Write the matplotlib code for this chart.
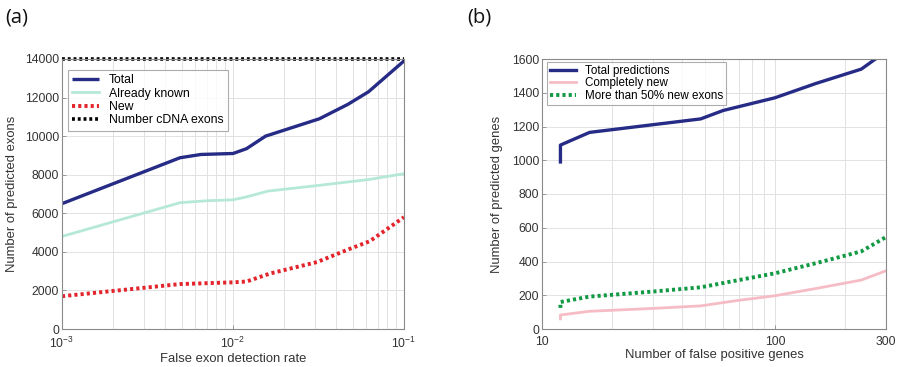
import matplotlib
matplotlib.use("Agg")
import matplotlib.pyplot as plt
from matplotlib.ticker import LogLocator, FixedLocator, FixedFormatter, NullFormatter, LogFormatterSciNotation

plt.rcParams['font.family'] = ['Liberation Sans', 'DejaVu Sans']
plt.rcParams['mathtext.default'] = 'regular'

# Panel (a) data
a_total_x = [1e-3, 4.9e-3, 6.5e-3, 1.0e-2, 1.2e-2, 1.55e-2, 3.2e-2, 4.7e-2, 6.2e-2, 1e-1]
a_total_y = [6500, 8880, 9050, 9100, 9350, 10000, 10900, 11650, 12300, 13900]
a_known_x = [1e-3, 4.9e-3, 7e-3, 1.0e-2, 1.2e-2, 1.6e-2, 3.2e-2, 6.2e-2, 1e-1]
a_known_y = [4800, 6550, 6650, 6700, 6850, 7150, 7450, 7750, 8050]
a_new_x = [1e-3, 4.9e-3, 1.0e-2, 1.2e-2, 1.65e-2, 3.1e-2, 4.8e-2, 6.3e-2, 1e-1]
a_new_y = [1700, 2330, 2420, 2460, 2880, 3470, 4150, 4550, 5800]
a_cdna_x = [1e-3, 1e-1]
a_cdna_y = [14000, 14000]

# Panel (b) data
b_total_x = [12, 12, 16, 48, 60, 100, 150, 235, 300]
b_total_y = [990, 1090, 1165, 1245, 1295, 1370, 1455, 1540, 1645]
b_cnew_x = [12, 12, 16, 30, 48, 70, 100, 150, 235, 300]
b_cnew_y = [60, 83, 105, 122, 137, 170, 197, 240, 290, 345]
b_half_x = [12, 12, 16, 30, 48, 70, 100, 150, 235, 300]
b_half_y = [125, 160, 192, 222, 247, 290, 330, 390, 460, 545]

W, H = 900, 367
fig = plt.figure(figsize=(W/100, H/100), dpi=100)

def frac(l, r, t, b):
    return [l/W, 1 - b/H, (r-l)/W, (b-t)/H]

ax1 = fig.add_axes(frac(62, 404, 59, 329))
ax2 = fig.add_axes(frac(542, 886, 59, 329))

navy = '#262b86'
grid_c = '#e2e2e2'
spine_c = '#8a8a8a'
fs = 8.8
lfs = 9.4

def style(ax):
    for s in ax.spines.values():
        s.set_color(spine_c)
        s.set_linewidth(0.8)
    ax.tick_params(which='both', direction='in', colors=spine_c, labelcolor='#333333',
                   labelsize=fs, length=3, width=0.6, pad=2)
    ax.tick_params(axis='x', which='both', pad=5)
    ax.tick_params(which='minor', length=0)
    ax.grid(True, which='major', color=grid_c, linewidth=0.7)
    ax.grid(True, which='minor', axis='x', color=grid_c, linewidth=0.7)
    ax.set_axisbelow(True)

# Panel (a)
ax1.plot(a_total_x, a_total_y, color=navy, lw=2.4, label='Total', solid_capstyle='butt')
ax1.plot(a_known_x, a_known_y, color='#b6e8d8', lw=2.0, label='Already known')
ax1.plot(a_new_x, a_new_y, color='#e3242b', lw=2.8, ls=(0, (0.8, 0.8)), label='New')
ax1.plot(a_cdna_x, a_cdna_y, color='black', lw=2.6, ls=(0, (0.8, 0.8)), label='Number cDNA exons', clip_on=False)
ax1.set_xscale('log')
ax1.set_xlim(1e-3, 1e-1)
ax1.set_ylim(0, 14000)
ax1.set_yticks(range(0, 14001, 2000))
ax1.xaxis.set_major_locator(LogLocator(base=10, numticks=10))
ax1.xaxis.set_major_formatter(LogFormatterSciNotation())
ax1.xaxis.set_minor_locator(LogLocator(base=10, subs=range(2, 10), numticks=20))
ax1.xaxis.set_minor_formatter(NullFormatter())
style(ax1)
ax1.set_xlabel('False exon detection rate', fontsize=lfs, color='#333333', labelpad=1)
ax1.set_ylabel('Number of predicted exons', fontsize=lfs, color='#333333')
ax1.yaxis.set_label_coords(-0.129, 0.5)
leg1 = ax1.legend(loc='upper left', bbox_to_anchor=(0.018, 0.96), borderaxespad=0,
                  fontsize=fs, frameon=True, fancybox=False, handlelength=2.2,
                  handletextpad=0.8, labelspacing=0.12, borderpad=0.35)
leg1.get_frame().set_edgecolor('#999999')
leg1.get_frame().set_linewidth(0.8)

# Panel (b)
ax2.plot(b_total_x, b_total_y, color=navy, lw=2.4, label='Total predictions')
ax2.plot(b_cnew_x, b_cnew_y, color='#f6bcc6', lw=2.0, label='Completely new')
ax2.plot(b_half_x, b_half_y, color='#119944', lw=2.8, ls=(0, (0.8, 0.8)), label='More than 50% new exons')
ax2.set_xscale('log')
ax2.set_xlim(10, 300)
ax2.set_ylim(0, 1600)
ax2.set_yticks(range(0, 1601, 200))
ax2.xaxis.set_major_locator(FixedLocator([10, 100, 300]))
ax2.xaxis.set_major_formatter(FixedFormatter(['10', '100', '300']))
ax2.xaxis.set_minor_locator(FixedLocator([20, 30, 40, 50, 60, 70, 80, 90, 200]))
ax2.xaxis.set_minor_formatter(NullFormatter())
style(ax2)
ax2.set_xlabel('Number of false positive genes', fontsize=lfs, color='#333333', labelpad=1)
ax2.set_ylabel('Number of predicted genes', fontsize=lfs, color='#333333')
ax2.yaxis.set_label_coords(-0.113, 0.5)
leg2 = ax2.legend(loc='upper left', bbox_to_anchor=(0.015, 0.99), borderaxespad=0,
                  fontsize=8.4, frameon=True, fancybox=False, handlelength=2.2,
                  handletextpad=0.8, labelspacing=0.05, borderpad=0.25)
leg2.get_frame().set_edgecolor('#999999')
leg2.get_frame().set_linewidth(0.8)

fig.text(5/W, 1 - 18/H, '(a)', fontsize=14.5, family=['Open Sans', 'DejaVu Sans'], va='center', ha='left', color='#111111')
fig.text(467/W, 1 - 18/H, '(b)', fontsize=14.5, family=['Open Sans', 'DejaVu Sans'], va='center', ha='left', color='#111111')

fig.savefig('out.png', dpi=100, facecolor='white')
